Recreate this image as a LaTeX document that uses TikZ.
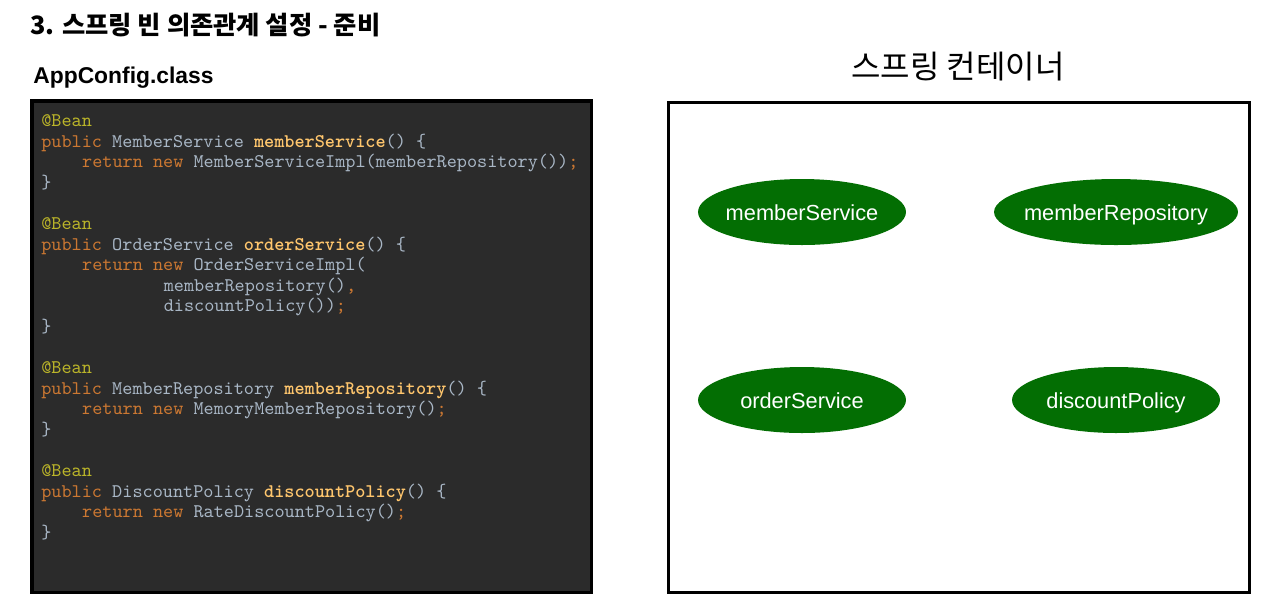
\documentclass[tikz,border=0pt]{standalone}
\usepackage{fontspec}
\setmainfont{Liberation Sans}
\setmonofont{lmmono10-regular}[Extension=.otf, BoldFont=lmmonolt10-bold]
\newfontfamily\krfont{Noto Sans CJK KR}
\usetikzlibrary{shapes.geometric}

\definecolor{panelbg}{HTML}{2B2B2B}
\definecolor{codeplain}{HTML}{A9B7C6}
\definecolor{codekw}{HTML}{CC7832}
\definecolor{codeann}{HTML}{BBB529}
\definecolor{codemeth}{HTML}{FFC66D}
\definecolor{beangreen}{HTML}{036E03}

\newcommand{\codefont}{\ttfamily\fontsize{10.98}{12}\selectfont}
\newcommand{\kw}[1]{\textcolor{codekw}{#1}}
\newcommand{\ann}[1]{\textcolor{codeann}{#1}}
\newcommand{\meth}[1]{\textcolor{codemeth}{\bfseries #1}}

\tikzset{
  codeline/.style={anchor=base west, inner sep=0pt, text=codeplain, font=\codefont},
  heading/.style={anchor=base west, inner sep=0pt},
  bean/.style={ellipse, fill=beangreen, text=white, inner ysep=0pt, inner xsep=-0.2cm,
    text height=1em, text depth=0pt, minimum height=1.32cm, font=\fontsize{12.4}{14}\selectfont}
}

\begin{document}
\begin{tikzpicture}[x=0.02cm, y=-0.02cm]
\useasboundingbox (0,0) rectangle (1270,610);
% headings
\node[heading, font=\krfont\bfseries\fontsize{14.4}{17}\selectfont] (title) at (30,34) {3. 스프링 빈 의존관계 설정 - 준비};
\node[heading, font=\bfseries\fontsize{13}{16}\selectfont] (cfgname) at (33,83) {AppConfig.class};
\node[inner sep=0pt, font=\krfont\fontsize{18.2}{21}\selectfont] (ctrname) at (958,67) {스프링 컨테이너};

% AppConfig code panel
\draw[line width=2pt, fill=panelbg] (31.75,100.75) rectangle (591.25,592.25);
\node[codeline] (c0) at (41,126.5) {\ann{@Bean}};
\node[codeline] (c1) at (41,147.1) {\kw{public} MemberService \meth{memberService}() \{};
\node[codeline] (c2) at (81.8,167.7) {\kw{return new} MemberServiceImpl(memberRepository())\kw{;}};
\node[codeline] (c3) at (41,188.3) {\}};
\node[codeline] (c5) at (41,229.5) {\ann{@Bean}};
\node[codeline] (c6) at (41,250.1) {\kw{public} OrderService \meth{orderService}() \{};
\node[codeline] (c7) at (81.8,270.7) {\kw{return new} OrderServiceImpl(};
\node[codeline] (c8) at (163.4,291.3) {memberRepository()\kw{,}};
\node[codeline] (c9) at (163.4,311.9) {discountPolicy())\kw{;}};
\node[codeline] (c10) at (41,332.5) {\}};
\node[codeline] (c12) at (41,373.7) {\ann{@Bean}};
\node[codeline] (c13) at (41,394.3) {\kw{public} MemberRepository \meth{memberRepository}() \{};
\node[codeline] (c14) at (81.8,414.9) {\kw{return new} MemoryMemberRepository()\kw{;}};
\node[codeline] (c15) at (41,435.5) {\}};
\node[codeline] (c17) at (41,476.7) {\ann{@Bean}};
\node[codeline] (c18) at (41,497.3) {\kw{public} DiscountPolicy \meth{discountPolicy}() \{};
\node[codeline] (c19) at (81.8,517.9) {\kw{return new} RateDiscountPolicy()\kw{;}};
\node[codeline] (c20) at (41,538.5) {\}};

% spring container with its beans
\draw[line width=1.7pt] (668.5,102.5) rectangle (1249.5,592.5);
\foreach \name/\x/\y/\w in {memberService/802/212/4.16, memberRepository/1116/212/4.88, orderService/802/400/4.16, discountPolicy/1116/400/4.16}
	\node[bean, minimum width=\w cm] (\name) at (\x,\y) {\name};
\end{tikzpicture}
\end{document}
